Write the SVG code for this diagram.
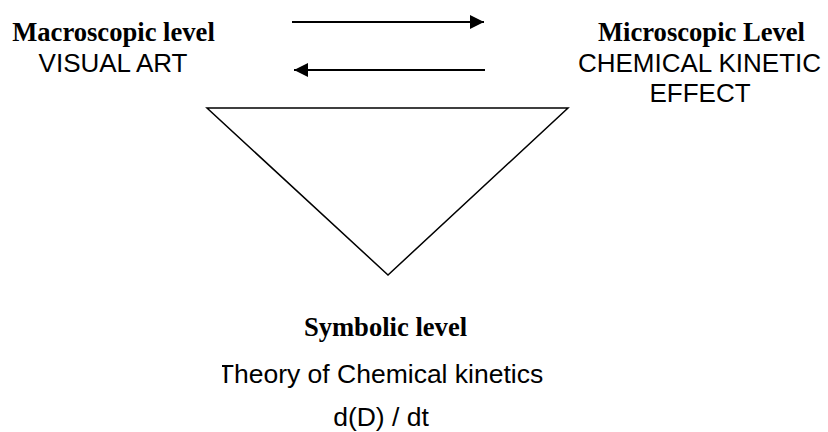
<svg xmlns="http://www.w3.org/2000/svg" width="828" height="432" viewBox="0 0 828 432">
<style>
.h{font-family:"Liberation Serif","Times New Roman",serif;font-weight:bold;font-size:26.6px;fill:#000;text-anchor:middle}
.t{font-family:"Liberation Sans",Arial,sans-serif;font-size:26px;fill:#000;text-anchor:middle}
.ln{stroke:#000;stroke-width:2;fill:none}
</style>
<defs>
<marker id="ah" viewBox="0 0 10 10" refX="10" refY="5" markerWidth="7" markerHeight="7" markerUnits="strokeWidth" orient="auto">
<path d="M0,0 L10,5 L0,10 Z" fill="#000"/>
</marker>
<clipPath id="cl"><rect x="222" y="350" width="360" height="45"/></clipPath>
</defs>
<g id="connectors">
<line class="ln" x1="292" y1="22" x2="484" y2="22" marker-end="url(#ah)"/>
<line class="ln" x1="485" y1="70" x2="294" y2="70" marker-end="url(#ah)"/>
</g>
<g id="macro">
<text class="h" x="113.5" y="41">Macroscopic level</text>
<text class="t" x="113" y="71.5">VISUAL ART</text>
</g>
<g id="micro">
<text class="h" x="701.5" y="41">Microscopic Level</text>
<text class="t" x="699.5" y="71.5">CHEMICAL KINETIC</text>
<text class="t" x="700" y="101.5">EFFECT</text>
</g>
<g id="triangle">
<polygon points="207,108 568,108 388,275" fill="none" stroke="#000" stroke-width="1.5"/>
</g>
<g id="symbolic">
<text class="h" x="385.5" y="336">Symbolic level</text>
<text class="t" x="380.5" y="382.5" style="font-size:26.5px" clip-path="url(#cl)">Theory of Chemical kinetics</text>
<text class="t" x="381" y="426" style="font-size:26.5px">d(D) / dt</text>
</g>
</svg>
